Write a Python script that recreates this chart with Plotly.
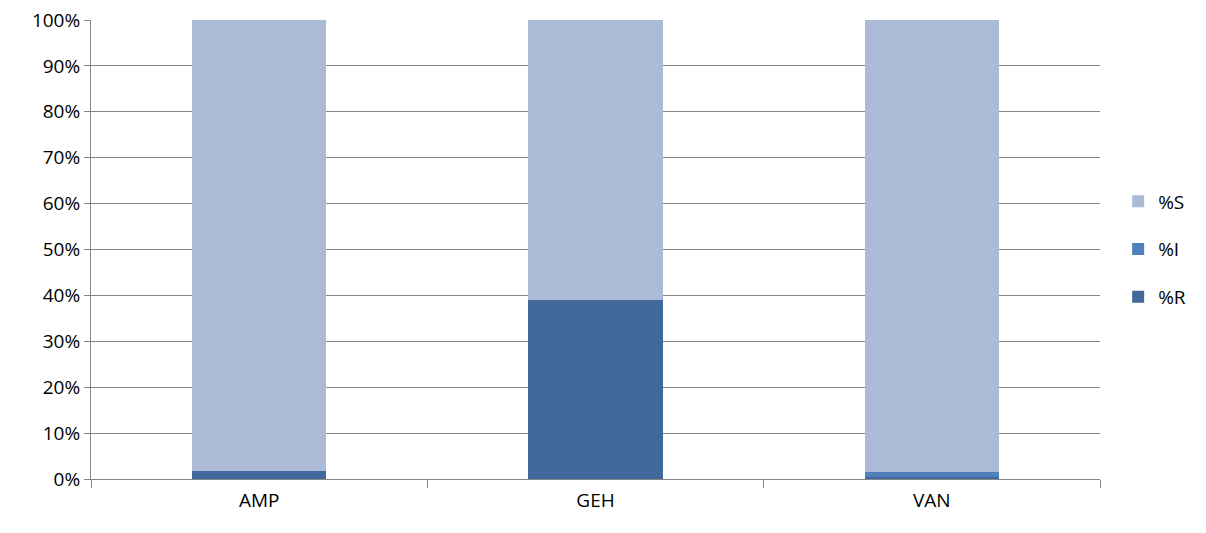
import plotly.graph_objects as go

categories = ["AMP", "GEH", "VAN"]
pct_R = [1.8, 39.0, 0.5]
pct_I = [0.0, 0.0, 1.1]
pct_S = [98.2, 61.0, 98.4]
tick_vals = list(range(0, 101, 10))
tick_text = [f"{v}%" for v in tick_vals]

colors = {"%R": "#41699B", "%I": "#4F80BC", "%S": "#AABAD7"}
ranks = {"%S": 1, "%I": 2, "%R": 3}

fig = go.Figure()
for name, vals in [("%R", pct_R), ("%I", pct_I), ("%S", pct_S)]:
    fig.add_trace(go.Bar(x=categories, y=vals, name=name, legendgroup=name,
                         legendrank=ranks[name],
                         marker=dict(color=colors[name], line=dict(width=0))))

fig.update_layout(
    barmode="stack",
    bargap=0.6,
    width=1206, height=533,
    margin=dict(l=83, r=114, t=12, b=62, autoexpand=False),
    plot_bgcolor="white", paper_bgcolor="white",
    font=dict(family="Open Sans, Liberation Sans, sans-serif", size=19, color="black"),
    legend=dict(traceorder="grouped", x=1.018, y=0.5, yanchor="middle",
                font=dict(size=19), itemsizing="constant", tracegroupgap=20),
    showlegend=True,
)
fig.update_xaxes(showline=True, linecolor="#868686", linewidth=1, automargin=False,
                 ticks="outside", tickson="boundaries", ticklen=8, tickcolor="#868686",
                 showgrid=False, ticklabelstandoff=4)
fig.update_yaxes(range=[0, 100], tickvals=tick_vals, ticktext=tick_text, automargin=False,
                 ticklabeloverflow="allow",
                 showline=True, linecolor="#868686", linewidth=1,
                 ticks="outside", ticklen=6, tickcolor="#868686",
                 showgrid=True, gridcolor="#868686", gridwidth=1, zeroline=False)

fig.write_html("out.html")
